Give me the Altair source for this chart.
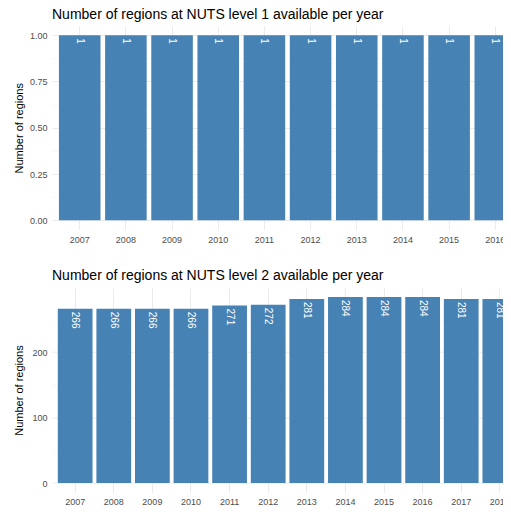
import altair as alt
import pandas as pd

years1 = [str(y) for y in range(2007, 2017)]
counts1 = [1, 1, 1, 1, 1, 1, 1, 1, 1, 1]
years2 = [str(y) for y in range(2007, 2019)]
counts2 = [266, 266, 266, 266, 271, 272, 281, 284, 284, 284, 281, 281]

title1 = "Number of regions at NUTS level 1 available per year"
title2 = "Number of regions at NUTS level 2 available per year"
ytitle = "Number of regions"

ticks1 = [0, 0.125, 0.25, 0.375, 0.5, 0.625, 0.75, 0.875, 1.0]
ticks2 = [0, 50, 100, 150, 200, 250]

FONT = "Liberation Sans"
BAR = "#4682B4"
W = 471


def panel(years, counts, title, ticks, major_test, label_expr, h, toff, lpad):
    df = pd.DataFrame({"year": years, "n": counts})
    mx = max(counts)
    x = alt.X(
        "year:O",
        title=None,
        scale=alt.Scale(paddingInner=0.1, paddingOuter=0.15),
        axis=alt.Axis(
            labelAngle=0, grid=True, ticks=False, tickSize=0, domain=False,
            bandPosition=0.5, labelPadding=lpad, labelFontSize=9,
            labelColor="#4D4D4D", gridColor="#EBEBEB", gridWidth=1,
            labelFont=FONT,
        ),
    )
    y = alt.Y(
        "n:Q",
        title=ytitle,
        scale=alt.Scale(domain=[-0.05 * mx, 1.05 * mx], nice=False, zero=False),
        axis=alt.Axis(
            values=ticks, labelExpr=label_expr, ticks=False, tickSize=0,
            domain=False, labelPadding=5, labelFontSize=9, labelColor="#4D4D4D",
            labelOverlap=False, labelFont=FONT,
            gridColor={"condition": {"test": "!(" + major_test + ")", "value": "#F4F4F4"}, "value": "#EBEBEB"},
            gridWidth={"condition": {"test": "!(" + major_test + ")", "value": 0.6}, "value": 1},
            titleFontSize=11, titleFontWeight="normal", titleColor="#000000",
            titleFont=FONT, titleAngle=-90, titleX=-33, titleY=h / 2,
            titleBaseline="middle", titleAlign="center",
        ),
    )
    bars = alt.Chart(df).mark_bar(color=BAR).encode(x=x, y=y)
    text = alt.Chart(df).mark_text(
        angle=90, align="left", baseline="middle", dx=3, color="white",
        fontSize=10, font=FONT,
    ).encode(x=x, y=y, text="n:Q")
    return alt.layer(bars, text).properties(
        width=W, height=h,
        title=alt.TitleParams(
            title, anchor="start", frame="group", fontSize=14,
            fontWeight="normal", font=FONT, color="#000000", offset=toff,
        ),
    )


p1 = panel(years1, counts1, title1, ticks1,
           "datum.value * 4 % 1 == 0",
           "datum.value * 4 % 1 == 0 ? format(datum.value, '.2f') : ''",
           203.5, 4, 6)
p2 = panel(years2, counts2, title2, ticks2,
           "datum.value % 100 == 0",
           "datum.value % 100 == 0 ? format(datum.value, 'd') : ''",
           204.6, 4.8, 5)

chart = alt.vconcat(p1, p2, spacing=23.7).properties(
    padding={"left": 4, "top": 0, "right": -20, "bottom": 0}
).configure_view(stroke=None)

chart.save("out.html", embed_options={"renderer": "svg", "actions": False})
